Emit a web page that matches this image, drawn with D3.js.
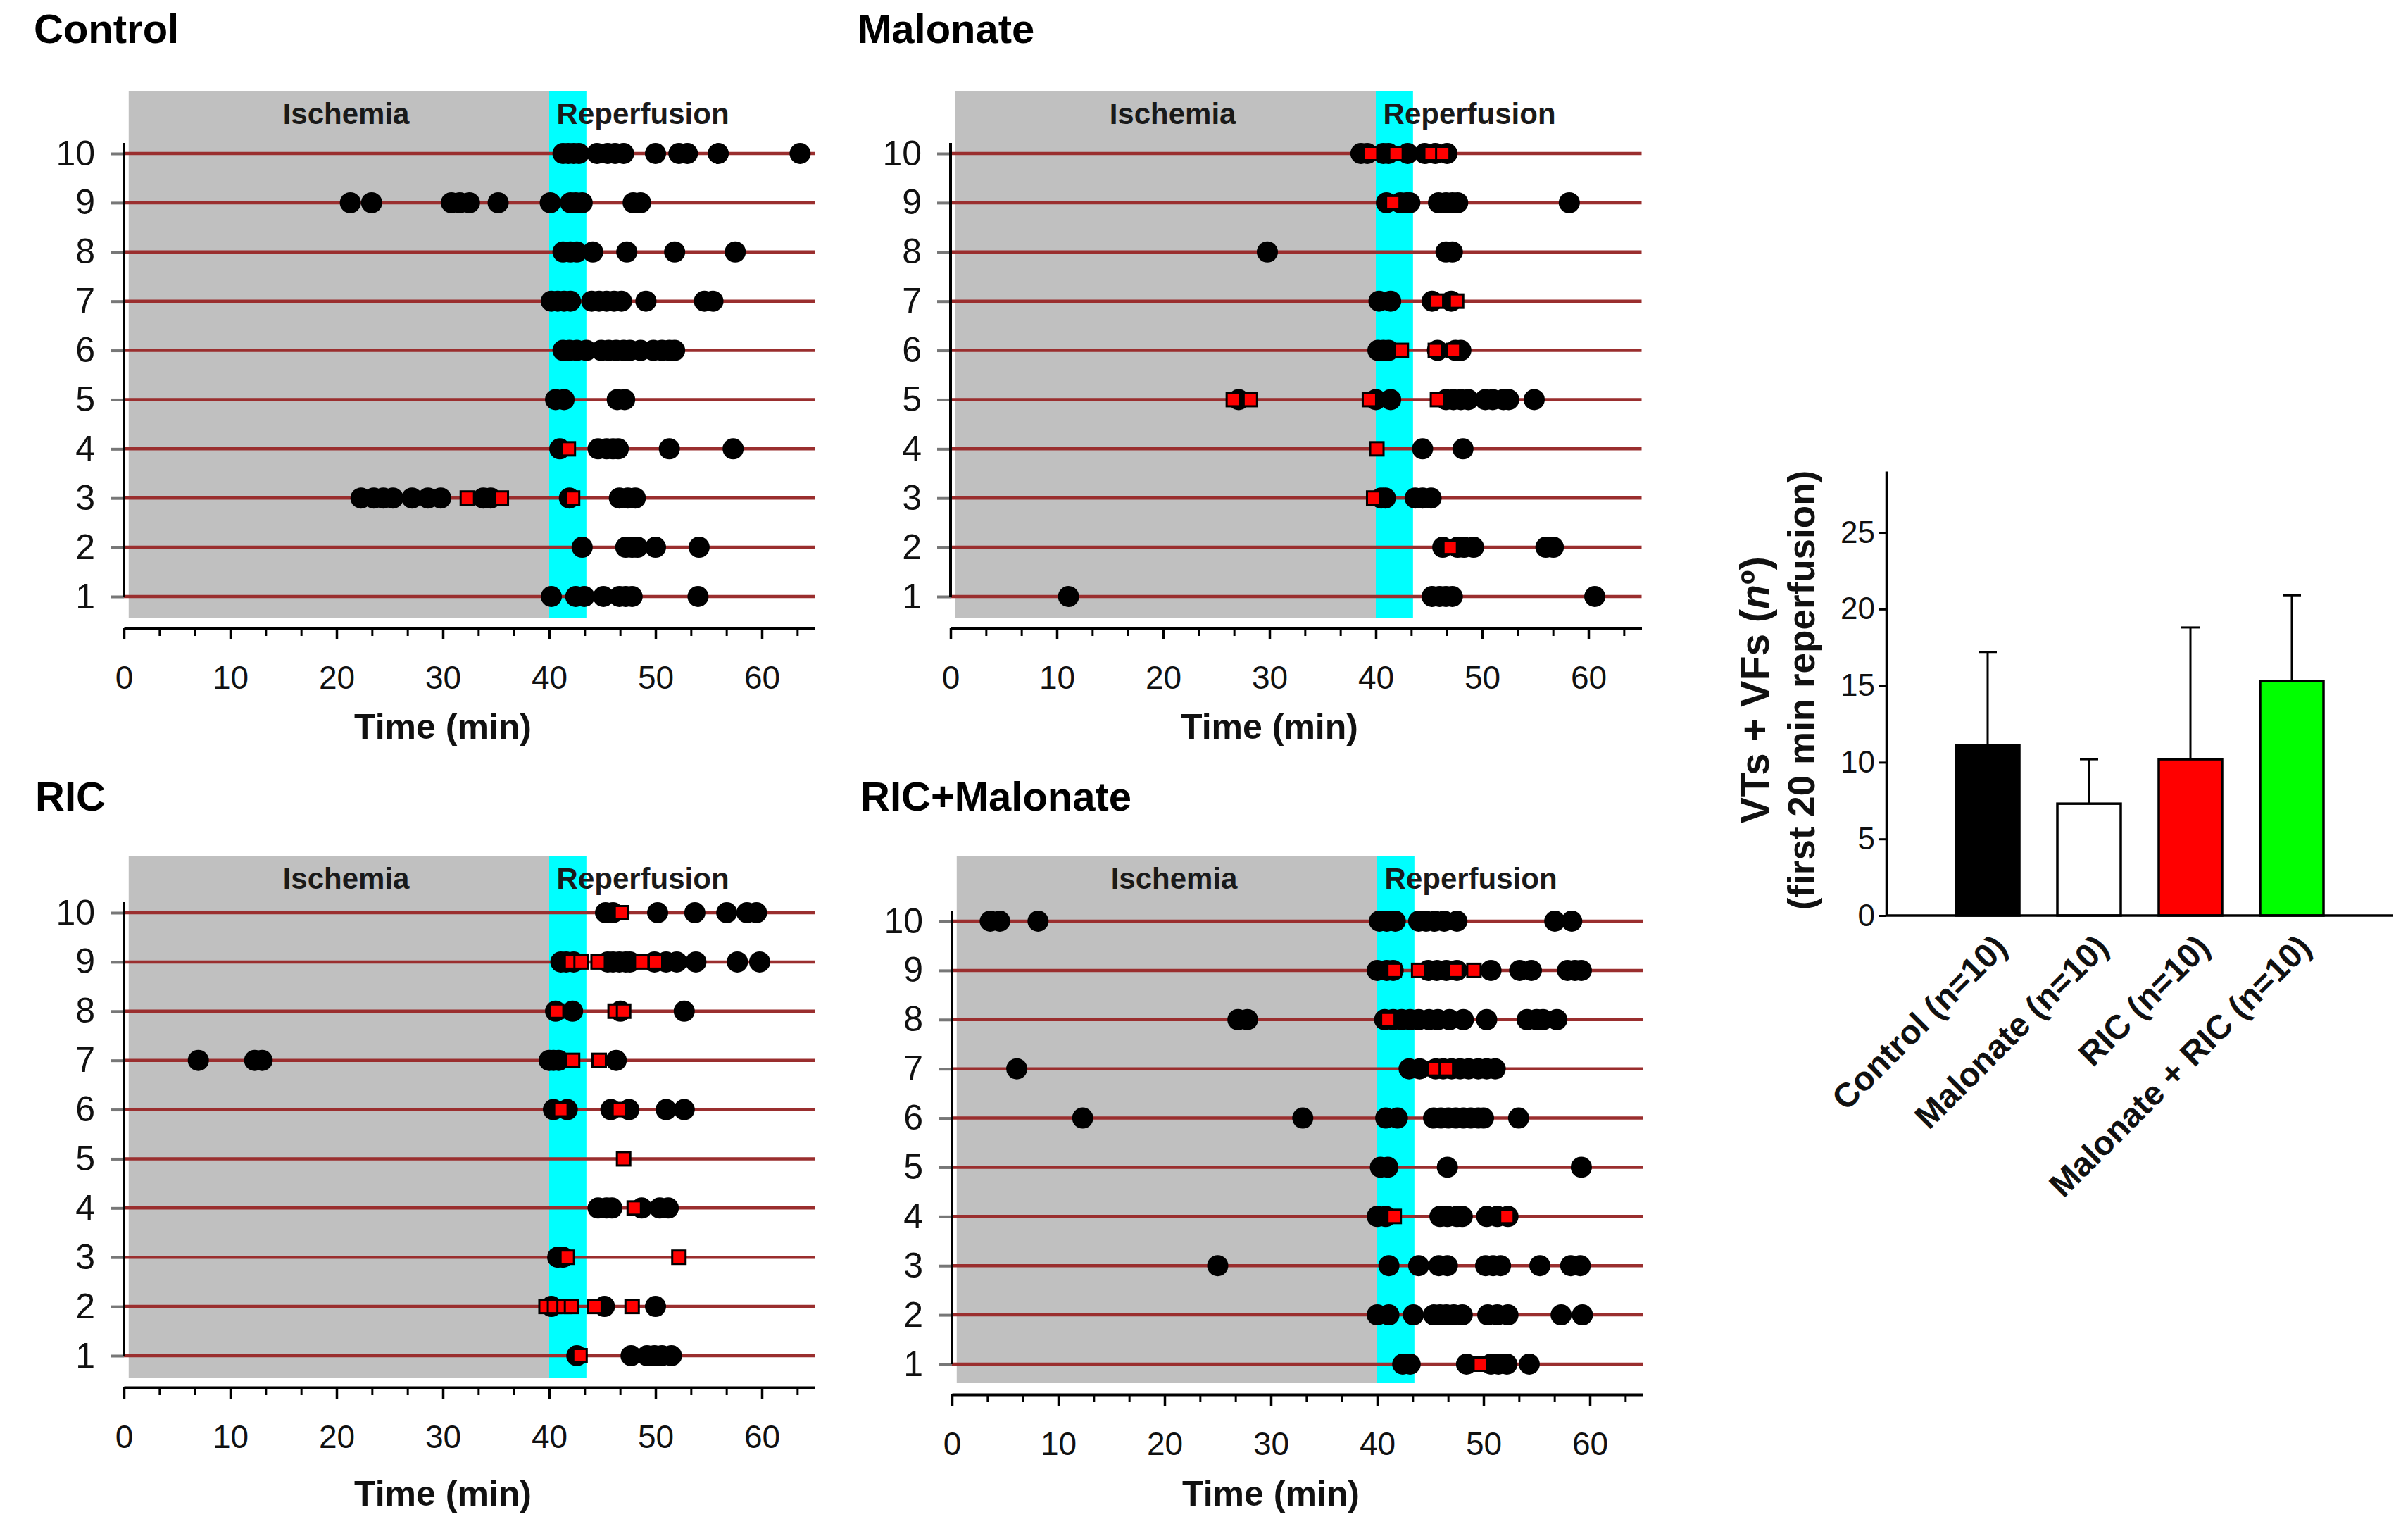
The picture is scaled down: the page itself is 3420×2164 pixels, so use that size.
<!DOCTYPE html>
<html>
<head>
<meta charset="utf-8">
<script src="https://cdn.jsdelivr.net/npm/d3@7"></script>
<style>
  body { margin: 0; background: #fff; }
  svg { display: block; }
  text { font-family: "Liberation Sans", Arial, Helvetica, sans-serif; }
</style>
</head>
<body>
<svg id="chart" width="3420" height="2164"></svg>
<script>
// ---------------- DATA ----------------
// Event times (min) per rat; index 0 = rat 1 ... index 9 = rat 10
// circles = black dots, squares = red squares
const ratIds = [1, 2, 3, 4, 5, 6, 7, 8, 9, 10];
const timeTicks = [0, 10, 20, 30, 40, 50, 60];
const ischemiaEnd = 40;
const reperfusionBandEnd = 43.5;

const controlCircles = [
  [40.2, 42.5, 43.3, 45.1, 46.6, 47.2, 47.8, 54],
  [43.1, 47.2, 47.8, 48.3, 50, 54.1],
  [22.3, 23.5, 24.4, 25.3, 27.1, 28.6, 29.8, 33.8, 34.5, 41.9, 46.6, 47.4, 48.1],
  [41, 44.6, 45.4, 46, 46.5, 51.3, 57.3],
  [40.6, 41.4, 46.4, 47.1],
  [41.3, 41.9, 42.6, 43.5, 44.9, 45.6, 46.3, 47, 47.6, 48.6, 49.8, 50.6, 51.3, 51.8],
  [40.2, 40.8, 41.4, 42, 44, 44.7, 45.4, 46.1, 46.8, 49.1, 54.6, 55.4],
  [41.3, 42, 42.6, 44.1, 47.3, 51.8, 57.5],
  [21.3, 23.3, 30.8, 31.6, 32.5, 35.2, 40.1, 42, 42.5, 43.1, 47.9, 48.6],
  [41.3, 41.8, 42.3, 42.8, 44.5, 45.5, 46.2, 47, 50, 52.2, 53, 55.9, 63.6]
];
const controlSquares = [[], [], [32.3, 35.5, 42.2], [41.8], [], [], [], [], [], []];

const malonateCircles = [
  [11.1, 45.3, 46, 46.6, 47.2, 60.6],
  [46.3, 47.7, 48.3, 49.2, 56, 56.7],
  [40.5, 40.9, 43.7, 44.4, 45.2],
  [44.4, 48.2],
  [27.1, 40, 41.4, 46.6, 47.3, 48, 48.7, 50.3, 51, 52, 52.5, 54.9],
  [40.2, 40.7, 41.2, 45.8, 47.5, 48],
  [40.3, 41.4, 45.3, 47.1],
  [29.8, 46.6, 47.2],
  [41, 42.3, 42.9, 43.2, 45.9, 46.6, 47.2, 47.7, 58.2],
  [38.6, 39.2, 40.7, 41.2, 43, 44.6, 45.6, 46.7]
];
const malonateSquares = [
  [], [47], [39.8], [40.1], [26.6, 28.2, 39.4, 45.8],
  [42.4, 45.6, 47.3], [45.7, 47.6], [], [41.6], [39.5, 41.9, 45.2, 46.3]
];

const ricCircles = [
  [42.6, 47.7, 49.2, 49.9, 50.6, 51.5],
  [40.2, 45.2, 50],
  [40.8, 41.3],
  [44.6, 45.4, 45.9, 48.7, 50.4, 51.2],
  [],
  [40.4, 41.7, 45.8, 47.5, 51, 52.7],
  [7, 12.3, 13, 40, 40.4, 40.9, 46.3],
  [40.6, 42.2, 46.7, 52.7],
  [41.1, 41.6, 42.3, 45.5, 46, 46.6, 47.2, 47.6, 49.9, 51, 52, 53.8, 57.7, 59.8],
  [45.3, 46, 50.2, 53.7, 56.7, 58.6, 59.5]
];
const ricSquares = [
  [42.9], [39.7, 40.5, 41.4, 42.1, 44.3, 47.8], [41.7, 52.2], [48.0], [47],
  [41.1, 46.6], [42.2, 44.7], [40.7, 46.2, 47], [42.1, 43.0, 44.6, 48.7, 50.0], [46.8]
];

const ricMalonateCircles = [
  [42.4, 43.1, 48.4, 50.7, 51.4, 52.2, 54.3],
  [40, 41.1, 43.4, 45.3, 45.9, 46.5, 47.2, 48, 50.4, 51.3, 52.3, 57.3, 59.3],
  [25, 41.1, 43.9, 45.8, 46.6, 50.2, 50.9, 51.6, 55.3, 58.2, 59.1],
  [40, 40.8, 45.9, 46.6, 47.5, 48, 50.3, 51.3, 52.3],
  [40.3, 41, 46.6, 59.2],
  [12.3, 33, 40.8, 41.9, 45.3, 46, 46.7, 47.4, 48.1, 48.8, 49.5, 50, 53.3],
  [6.1, 43, 44, 45.5, 46.2, 47, 47.8, 48.6, 49.5, 50.3, 51.1],
  [26.9, 27.8, 40.7, 41.5, 42.3, 43.1, 43.9, 44.9, 45.7, 46.8, 48.1, 50.3, 54.1, 55, 55.6, 56.9],
  [40, 40.9, 41.5, 44.8, 45.6, 46.5, 47.5, 50.7, 53.4, 54.5, 57.9, 58.6, 59.2],
  [3.6, 4.5, 8.1, 40.2, 40.9, 41.7, 43.9, 44.6, 45.4, 46.3, 47.5, 56.7, 58.3]
];
const ricMalonateSquares = [
  [49.7], [], [], [41.6, 52.2], [], [], [45.4, 46.5], [41], [41.6, 43.9, 47.4, 49.1], []
];

// Bar chart
const barCategories = ["Control (n=10)", "Malonate (n=10)", "RIC (n=10)", "Malonate + RIC (n=10)"];
const barMeans = [11.1, 7.3, 10.2, 15.3];
const barErrors = [6.1, 2.9, 8.6, 5.6];
const barTicks = [0, 5, 10, 15, 20, 25];

// ---------------- DRAWING ----------------
const svg = d3.select("#chart");
svg.append("rect").attr("width", 3420).attr("height", 2164).attr("fill", "#fff");

const PX_PER_MIN = 15.1;
const panels = [
  { title: "Control", circles: controlCircles, squares: controlSquares, x0: 176, titleX: 48, titleY: 61,
    row1: 847, row10: 218, grayTop: 129, grayBottom: 877, axisY: 892, tickLabelY: 978, axisTitleY: 1049 },
  { title: "Malonate", circles: malonateCircles, squares: malonateSquares, x0: 1350, titleX: 1218, titleY: 61,
    row1: 847, row10: 218, grayTop: 129, grayBottom: 877, axisY: 892, tickLabelY: 978, axisTitleY: 1049 },
  { title: "RIC", circles: ricCircles, squares: ricSquares, x0: 176, titleX: 50, titleY: 1151,
    row1: 1925, row10: 1296, grayTop: 1215, grayBottom: 1957, axisY: 1970, tickLabelY: 2056, axisTitleY: 2138 },
  { title: "RIC+Malonate", circles: ricMalonateCircles, squares: ricMalonateSquares, x0: 1352, titleX: 1222, titleY: 1151,
    row1: 1937, row10: 1308, grayTop: 1215, grayBottom: 1964, axisY: 1980, tickLabelY: 2066, axisTitleY: 2138 }
];

panels.forEach(p => {
  const g = svg.append("g");
  const x = d3.scaleLinear().domain([0, 65]).range([p.x0, p.x0 + 65 * PX_PER_MIN]);
  const y = d3.scaleLinear().domain([1, 10]).range([p.row1, p.row10]);

  // title
  g.append("text").attr("x", p.titleX).attr("y", p.titleY)
    .attr("font-size", 58).attr("font-weight", "bold").attr("fill", "#000").text(p.title);

  // shaded phases
  g.append("rect").attr("x", x(0.45)).attr("y", p.grayTop)
    .attr("width", x(ischemiaEnd) - x(0.45)).attr("height", p.grayBottom - p.grayTop)
    .attr("fill", "#c0c0c0");
  g.append("rect").attr("x", x(ischemiaEnd)).attr("y", p.grayTop)
    .attr("width", x(reperfusionBandEnd) - x(ischemiaEnd)).attr("height", p.grayBottom - p.grayTop)
    .attr("fill", "#00ffff");

  g.append("text").attr("x", x(20.9)).attr("y", p.grayTop + 47)
    .attr("text-anchor", "middle").attr("font-size", 42).attr("font-weight", "bold")
    .attr("fill", "#1a1a1a").text("Ischemia");
  g.append("text").attr("x", x(40.7)).attr("y", p.grayTop + 47)
    .attr("font-size", 42).attr("font-weight", "bold")
    .attr("fill", "#1a1a1a").text("Reperfusion");

  // row lines
  g.append("g").selectAll("line").data(ratIds).join("line")
    .attr("x1", x(0)).attr("x2", x(65))
    .attr("y1", d => y(d)).attr("y2", d => y(d))
    .attr("stroke", "#9a2e2e").attr("stroke-width", 4.5);

  // y axis
  const ya = g.append("g").attr("transform", `translate(${x(0)},0)`)
    .call(d3.axisLeft(y).tickValues(ratIds).tickSize(19).tickPadding(22).tickFormat(d3.format("d")));
  ya.select(".domain").remove();
  ya.selectAll(".tick line").attr("stroke", "#777").attr("stroke-width", 4);
  ya.selectAll(".tick text").attr("font-size", 50).attr("fill", "#111")
    .style("font-family", '"Liberation Sans", Arial, sans-serif');
  g.append("line").attr("x1", x(0)).attr("x2", x(0))
    .attr("y1", y(10) - 15).attr("y2", y(1))
    .attr("stroke", "#000").attr("stroke-width", 4);

  // x axis minor ticks
  const minor = d3.range(0, 20).map(i => i * 10 / 3);
  const xm = g.append("g").attr("transform", `translate(0,${p.axisY})`)
    .call(d3.axisBottom(x).tickValues(minor).tickSize(11).tickFormat(""));
  xm.select(".domain").remove();
  xm.selectAll(".tick line").attr("stroke", "#000").attr("stroke-width", 3);

  // x axis major
  const xa = g.append("g").attr("transform", `translate(0,${p.axisY})`)
    .call(d3.axisBottom(x).tickValues(timeTicks).tickSize(16).tickSizeOuter(0));
  xa.select(".domain").attr("stroke", "#000").attr("stroke-width", 4);
  xa.selectAll(".tick line").attr("stroke", "#000").attr("stroke-width", 3.5);
  xa.selectAll(".tick text").attr("y", p.tickLabelY - p.axisY).attr("dy", 0)
    .attr("font-size", 46).attr("fill", "#111")
    .style("font-family", '"Liberation Sans", Arial, sans-serif');

  g.append("text").attr("x", x(30)).attr("y", p.axisTitleY)
    .attr("text-anchor", "middle").attr("font-size", 50).attr("font-weight", "bold")
    .attr("fill", "#111").text("Time (min)");

  // events
  const circ = [];
  p.circles.forEach((arr, i) => arr.forEach(t => circ.push({ rat: ratIds[i], t })));
  const sq = [];
  p.squares.forEach((arr, i) => arr.forEach(t => sq.push({ rat: ratIds[i], t })));

  g.append("g").selectAll("circle").data(circ).join("circle")
    .attr("cx", d => x(d.t)).attr("cy", d => y(d.rat)).attr("r", 15)
    .attr("fill", "#000");
  const s = 19;
  g.append("g").selectAll("rect").data(sq).join("rect")
    .attr("x", d => x(d.t) - s / 2).attr("y", d => y(d.rat) - s / 2)
    .attr("width", s).attr("height", s)
    .attr("fill", "#ff0000").attr("stroke", "#000").attr("stroke-width", 3);
});

// ---------------- BAR CHART ----------------
const bg = svg.append("g");
const bx = d3.scalePoint().domain(barCategories).range([2823, 3255]);
const by = d3.scaleLinear().domain([0, 29]).range([1300, 669]);
const barColor = d3.scaleOrdinal().domain(barCategories).range(["#000000", "#ffffff", "#ff0000", "#00ff00"]);
const barW = 90;

// error bars (drawn first so bar tops cover stems)
const eg = bg.append("g");
barCategories.forEach((c, i) => {
  const cx = bx(c);
  eg.append("line").attr("x1", cx).attr("x2", cx)
    .attr("y1", by(barMeans[i])).attr("y2", by(barMeans[i] + barErrors[i]))
    .attr("stroke", "#000").attr("stroke-width", 3);
  eg.append("line").attr("x1", cx - 13).attr("x2", cx + 13)
    .attr("y1", by(barMeans[i] + barErrors[i])).attr("y2", by(barMeans[i] + barErrors[i]))
    .attr("stroke", "#000").attr("stroke-width", 3);
});

bg.append("g").selectAll("rect").data(barCategories).join("rect")
  .attr("x", d => bx(d) - barW / 2)
  .attr("y", (d, i) => by(barMeans[i]))
  .attr("width", barW)
  .attr("height", (d, i) => by(0) - by(barMeans[i]))
  .attr("fill", d => barColor(d))
  .attr("stroke", "#000").attr("stroke-width", 3.5);

const bya = bg.append("g").attr("transform", "translate(2679,0)")
  .call(d3.axisLeft(by).tickValues(barTicks).tickSize(10).tickPadding(6).tickSizeOuter(0));
bya.select(".domain").attr("stroke", "#000").attr("stroke-width", 3.5);
bya.selectAll(".tick line").attr("stroke", "#000").attr("stroke-width", 3);
bya.selectAll(".tick text").attr("font-size", 44).attr("fill", "#111")
  .style("font-family", '"Liberation Sans", Arial, sans-serif');

bg.append("line").attr("x1", 2679).attr("x2", 3399).attr("y1", by(0)).attr("y2", by(0))
  .attr("stroke", "#000").attr("stroke-width", 3.5);

bg.append("g").selectAll("text").data(barCategories).join("text")
  .attr("transform", d => `translate(${bx(d) + 30},${by(0) + 48}) rotate(-45)`)
  .attr("text-anchor", "end").attr("font-size", 48).attr("font-weight", "bold")
  .attr("fill", "#111").text(d => d);

const yl1 = bg.append("text").attr("transform", "translate(2512,980) rotate(-90)")
  .attr("text-anchor", "middle").attr("font-size", 57).attr("font-weight", "bold").attr("fill", "#111");
yl1.append("tspan").text("VTs + VFs (");
yl1.append("tspan").attr("font-style", "italic").text("n");
yl1.append("tspan").text("º)");

bg.append("text").attr("transform", "translate(2577,980) rotate(-90)")
  .attr("text-anchor", "middle").attr("font-size", 53).attr("font-weight", "bold").attr("fill", "#111")
  .text("(first 20 min reperfusion)");
</script>
</body>
</html>
